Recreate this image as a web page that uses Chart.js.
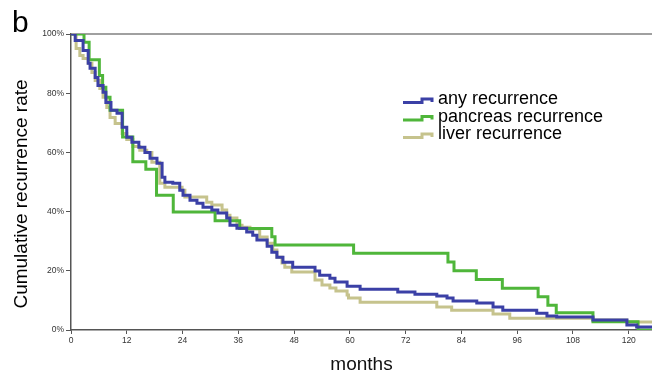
<!DOCTYPE html>
<html>
<head>
<meta charset="utf-8">
<script src="https://cdn.jsdelivr.net/npm/chart.js@4/dist/chart.umd.min.js"></script>
<style>
html,body{margin:0;padding:0;background:#fff;}
#wrap{width:652px;height:377px;position:relative;}
</style>
</head>
<body>
<div id="wrap"><canvas id="c" width="652" height="377"></canvas></div>
<script>
// ---- data (months, cumulative % without recurrence) ----
const seriesNames = ['any recurrence', 'pancreas recurrence', 'liver recurrence'];

const anyT = [0, 0.9, 2.6, 3.7, 4.1, 5.2, 5.8, 6.9, 7.5, 8.6, 9.9, 11.0, 12.0, 13.1, 14.6, 15.9, 17.0, 18.5, 19.6, 20.2, 21.9, 23.4, 24.1, 25.6, 27.1, 28.4, 30.3, 31.6, 33.5, 34.2, 35.7, 37.8, 39.1, 40.0, 42.2, 43.2, 44.3, 45.6, 47.7, 52.5, 53.5, 55.7, 56.8, 59.4, 62.2, 70.3, 74.0, 78.7, 80.9, 82.2, 87.3, 90.8, 92.9, 100.2, 102.4, 104.5, 112.3, 119.6, 121.7, 125];
const anyS = [100, 97.8, 94.4, 90.1, 88.4, 85.3, 82.6, 80.3, 76.9, 74.2, 73.2, 68.5, 65.1, 63.4, 61.7, 60.0, 58.0, 56.3, 51.6, 49.9, 49.6, 47.2, 45.5, 43.8, 42.8, 41.5, 40.5, 39.5, 37.8, 35.4, 34.4, 33.1, 32.0, 30.4, 28.3, 26.3, 24.6, 22.9, 21.2, 19.9, 18.5, 17.5, 16.2, 14.8, 13.8, 12.8, 12.1, 11.5, 10.8, 9.8, 9.1, 7.8, 6.7, 5.7, 4.7, 4.4, 3.4, 1.7, 1.0, 1.0];

const panT = [0, 2.8, 3.9, 6.1, 6.8, 7.5, 8.4, 11.1, 13.3, 16.1, 18.4, 22.0, 31.0, 36.3, 43.2, 43.9, 60.8, 81.1, 82.4, 87.2, 92.8, 100.5, 102.6, 104.4, 112.3, 122.0, 125];
const panS = [100, 97.2, 91.3, 86.0, 82.0, 78.6, 74.2, 65.2, 56.8, 54.3, 45.5, 39.9, 36.9, 34.3, 31.5, 28.7, 25.9, 23.0, 20.0, 17.1, 14.1, 11.2, 8.4, 5.8, 2.8, 0, 0];

const livT = [0, 1.1, 1.9, 2.6, 3.7, 4.5, 5.2, 6.2, 6.9, 7.7, 8.4, 9.5, 11.0, 12.0, 13.3, 14.8, 16.3, 17.4, 19.1, 20.2, 23.9, 24.5, 29.2, 30.3, 32.5, 33.5, 34.2, 35.7, 36.8, 38.5, 40.6, 42.2, 43.4, 44.3, 45.4, 46.0, 47.5, 52.5, 54.0, 55.7, 57.0, 59.4, 59.7, 62.2, 78.7, 81.9, 90.8, 94.4, 112.3, 119.6, 125];
const livS = [100, 95.1, 92.7, 91.7, 90.1, 87.0, 84.3, 81.6, 78.6, 75.2, 71.8, 69.8, 66.4, 64.4, 62.0, 60.7, 60.0, 56.7, 49.6, 48.2, 47.2, 44.9, 43.2, 42.2, 40.5, 38.8, 37.8, 35.4, 34.7, 34.1, 31.4, 29.3, 27.0, 24.6, 22.6, 21.2, 19.6, 16.9, 15.2, 14.2, 13.2, 11.8, 10.8, 9.4, 7.8, 6.7, 5.4, 4.0, 3.4, 2.7, 2.7];

const xTickValues = [0, 12, 24, 36, 48, 60, 72, 84, 96, 108, 120];
const yTickValues = [0, 20, 40, 60, 80, 100];

const colors = ['#3b40a6', '#4fb63a', '#c6c38d'];

function pts(T, S) { return T.map((t, i) => ({x: t, y: S[i]})); }

const FONT = '"Liberation Sans", Arial, Helvetica, sans-serif';

const deco = {
  id: 'deco',
  beforeDatasetsDraw(chart) {
    const c = chart.ctx, a = chart.chartArea;
    c.save();
    c.strokeStyle = '#808080';
    c.lineWidth = 1.3;
    c.beginPath();
    c.moveTo(a.left, a.top);
    c.lineTo(a.right, a.top);
    c.stroke();
    c.restore();
  },
  afterDraw(chart) {
    const c = chart.ctx;
    c.save();
    // panel label
    c.fillStyle = '#000';
    c.font = '30px ' + FONT;
    c.textBaseline = 'alphabetic';
    c.textAlign = 'left';
    c.fillText('b', 12, 32);
    // y title
    c.save();
    c.translate(27, 194);
    c.rotate(-Math.PI / 2);
    c.font = '19px ' + FONT;
    c.textAlign = 'center';
    c.textBaseline = 'alphabetic';
    c.fillText('Cumulative recurrence rate', 0, 0);
    c.restore();
    // legend
    const baseY = [104, 121.5, 139];
    c.font = '18px ' + FONT;
    c.textAlign = 'left';
    c.textBaseline = 'alphabetic';
    seriesNames.forEach((n, i) => {
      const y = baseY[i];
      c.strokeStyle = colors[i];
      c.lineWidth = 3;
      c.lineJoin = 'miter';
      c.beginPath();
      c.moveTo(403, y - 1.5);
      c.lineTo(422, y - 1.5);
      c.lineTo(422, y - 5);
      c.lineTo(432, y - 5);
      c.lineTo(432, y - 2);
      c.stroke();
      c.fillStyle = '#000';
      c.fillText(n, 438, y);
    });
    c.restore();
  }
};

new Chart(document.getElementById('c'), {
  type: 'line',
  data: {
    datasets: [
      {label: seriesNames[0], data: pts(anyT, anyS), borderColor: colors[0]},
      {label: seriesNames[1], data: pts(panT, panS), borderColor: colors[1]},
      {label: seriesNames[2], data: pts(livT, livS), borderColor: colors[2]}
    ].map(d => Object.assign(d, {stepped: true, pointRadius: 0, borderWidth: 3, fill: false, tension: 0}))
  },
  options: {
    responsive: false,
    animation: false,
    layout: {padding: {top: 34, left: 0, right: 0, bottom: 0}},
    plugins: {legend: {display: false}, tooltip: {enabled: false}},
    scales: {
      x: {
        type: 'linear',
        min: 0, max: 125,
        afterFit(s) { s.height = 47; },
        afterBuildTicks(s) { s.ticks = xTickValues.map(v => ({value: v})); },
        border: {display: true, color: '#555', width: 1.5},
        grid: {display: true, drawOnChartArea: false, drawTicks: true, tickLength: 4, color: '#555'},
        ticks: {font: {size: 8.5, family: FONT}, color: '#333', padding: 2, maxRotation: 0},
        title: {display: true, text: 'months', font: {size: 19, family: FONT}, color: '#111', padding: {top: 0, bottom: 1}}
      },
      y: {
        min: 0, max: 100,
        afterFit(s) { s.width = 71; },
        afterBuildTicks(s) { s.ticks = yTickValues.map(v => ({value: v})); },
        border: {display: true, color: '#555', width: 1.5},
        grid: {display: true, drawOnChartArea: false, drawTicks: true, tickLength: 5, color: '#555'},
        ticks: {font: {size: 8.5, family: FONT}, color: '#333', padding: 2, callback: v => v + '%'}
      }
    }
  },
  plugins: [deco]
});
</script>
</body>
</html>
